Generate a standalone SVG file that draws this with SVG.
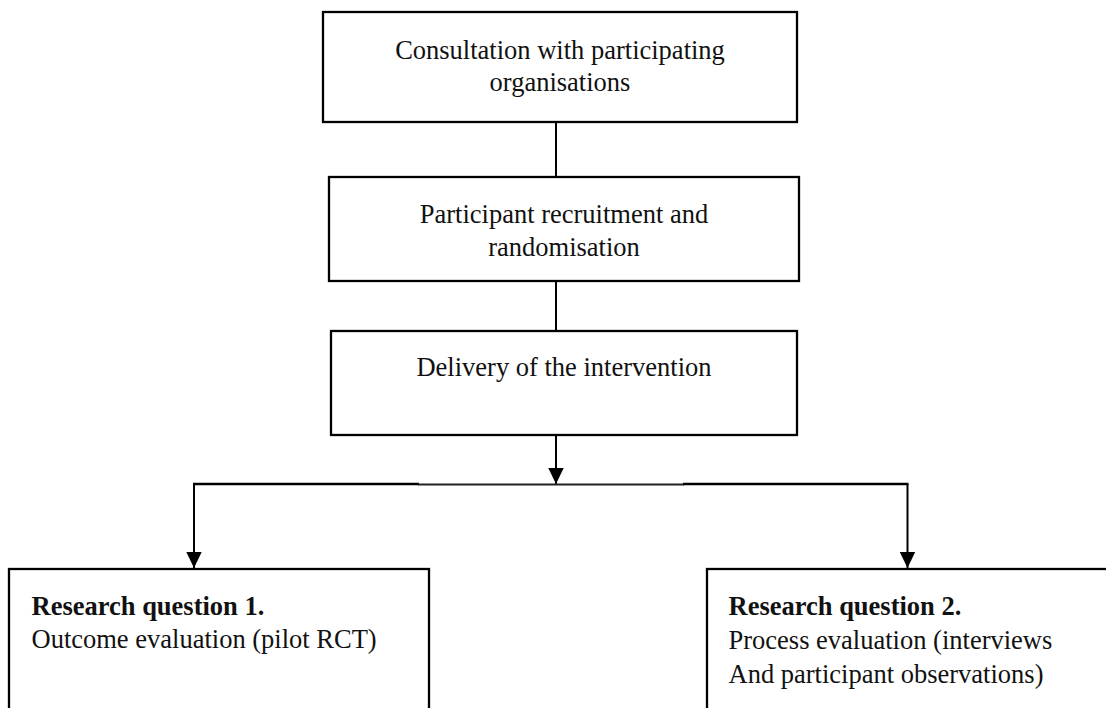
<svg xmlns="http://www.w3.org/2000/svg" width="1106" height="708" viewBox="0 0 1106 708">
  <style>
    .box { fill: #ffffff; stroke: #000000; stroke-width: 2.3; }
    .lbl { font-family: "Liberation Serif", "Times New Roman", serif; font-size: 26.5px; fill: #111111; }
    .mid { text-anchor: middle; }
    .b { font-weight: bold; }
    .wire { fill: none; stroke: #000000; stroke-width: 2; }
  </style>
  <defs>
    <marker id="arrow" markerUnits="userSpaceOnUse" markerWidth="16" markerHeight="16" viewBox="0 0 16 16" refX="16" refY="8" orient="auto">
      <path d="M0,0.3 L16,8 L0,15.7 Z" fill="#000000"/>
    </marker>
  </defs>

  <rect width="1106" height="708" fill="#ffffff"/>

  <!-- connectors -->
  <g id="connectors">
    <line class="wire" x1="556" y1="122" x2="556" y2="177"/>
    <line class="wire" x1="556" y1="281" x2="556" y2="331"/>
    <line class="wire" x1="556" y1="435" x2="556" y2="484" marker-end="url(#arrow)"/>
    <line x1="193" y1="484" x2="419" y2="484" stroke="#000000" stroke-width="2.3"/>
    <line x1="418" y1="484.5" x2="684" y2="484.5" stroke="#222222" stroke-width="1.8"/>
    <line x1="683" y1="484" x2="908.5" y2="484" stroke="#000000" stroke-width="2.3"/>
    <line class="wire" x1="194" y1="484" x2="194" y2="568" marker-end="url(#arrow)"/>
    <line class="wire" x1="907.5" y1="484" x2="907.5" y2="568" marker-end="url(#arrow)"/>
  </g>

  <!-- step 1 -->
  <g id="consultation">
    <rect class="box" x="323" y="12" width="474" height="110"/>
    <text class="lbl mid" x="560" y="59">Consultation with participating</text>
    <text class="lbl mid" x="560" y="90.5">organisations</text>
  </g>

  <!-- step 2 -->
  <g id="recruitment">
    <rect class="box" x="329" y="177" width="470" height="104"/>
    <text class="lbl mid" x="564" y="223">Participant recruitment and</text>
    <text class="lbl mid" x="564" y="256">randomisation</text>
  </g>

  <!-- step 3 -->
  <g id="delivery">
    <rect class="box" x="331" y="331" width="466" height="104"/>
    <text class="lbl mid" x="564" y="376">Delivery of the intervention</text>
  </g>

  <!-- research question 1 -->
  <g id="rq1">
    <rect class="box" x="9" y="569" width="420" height="160"/>
    <text class="lbl b" x="31.5" y="614.5">Research question 1.</text>
    <text class="lbl" x="31.5" y="647.5">Outcome evaluation (pilot RCT)</text>
  </g>

  <!-- research question 2 -->
  <g id="rq2">
    <rect class="box" x="707" y="569" width="420" height="160"/>
    <text class="lbl b" x="728.5" y="615">Research question 2.</text>
    <text class="lbl" x="728.5" y="649">Process evaluation (interviews</text>
    <text class="lbl" x="728.5" y="682.5">And participant observations)</text>
  </g>
</svg>
